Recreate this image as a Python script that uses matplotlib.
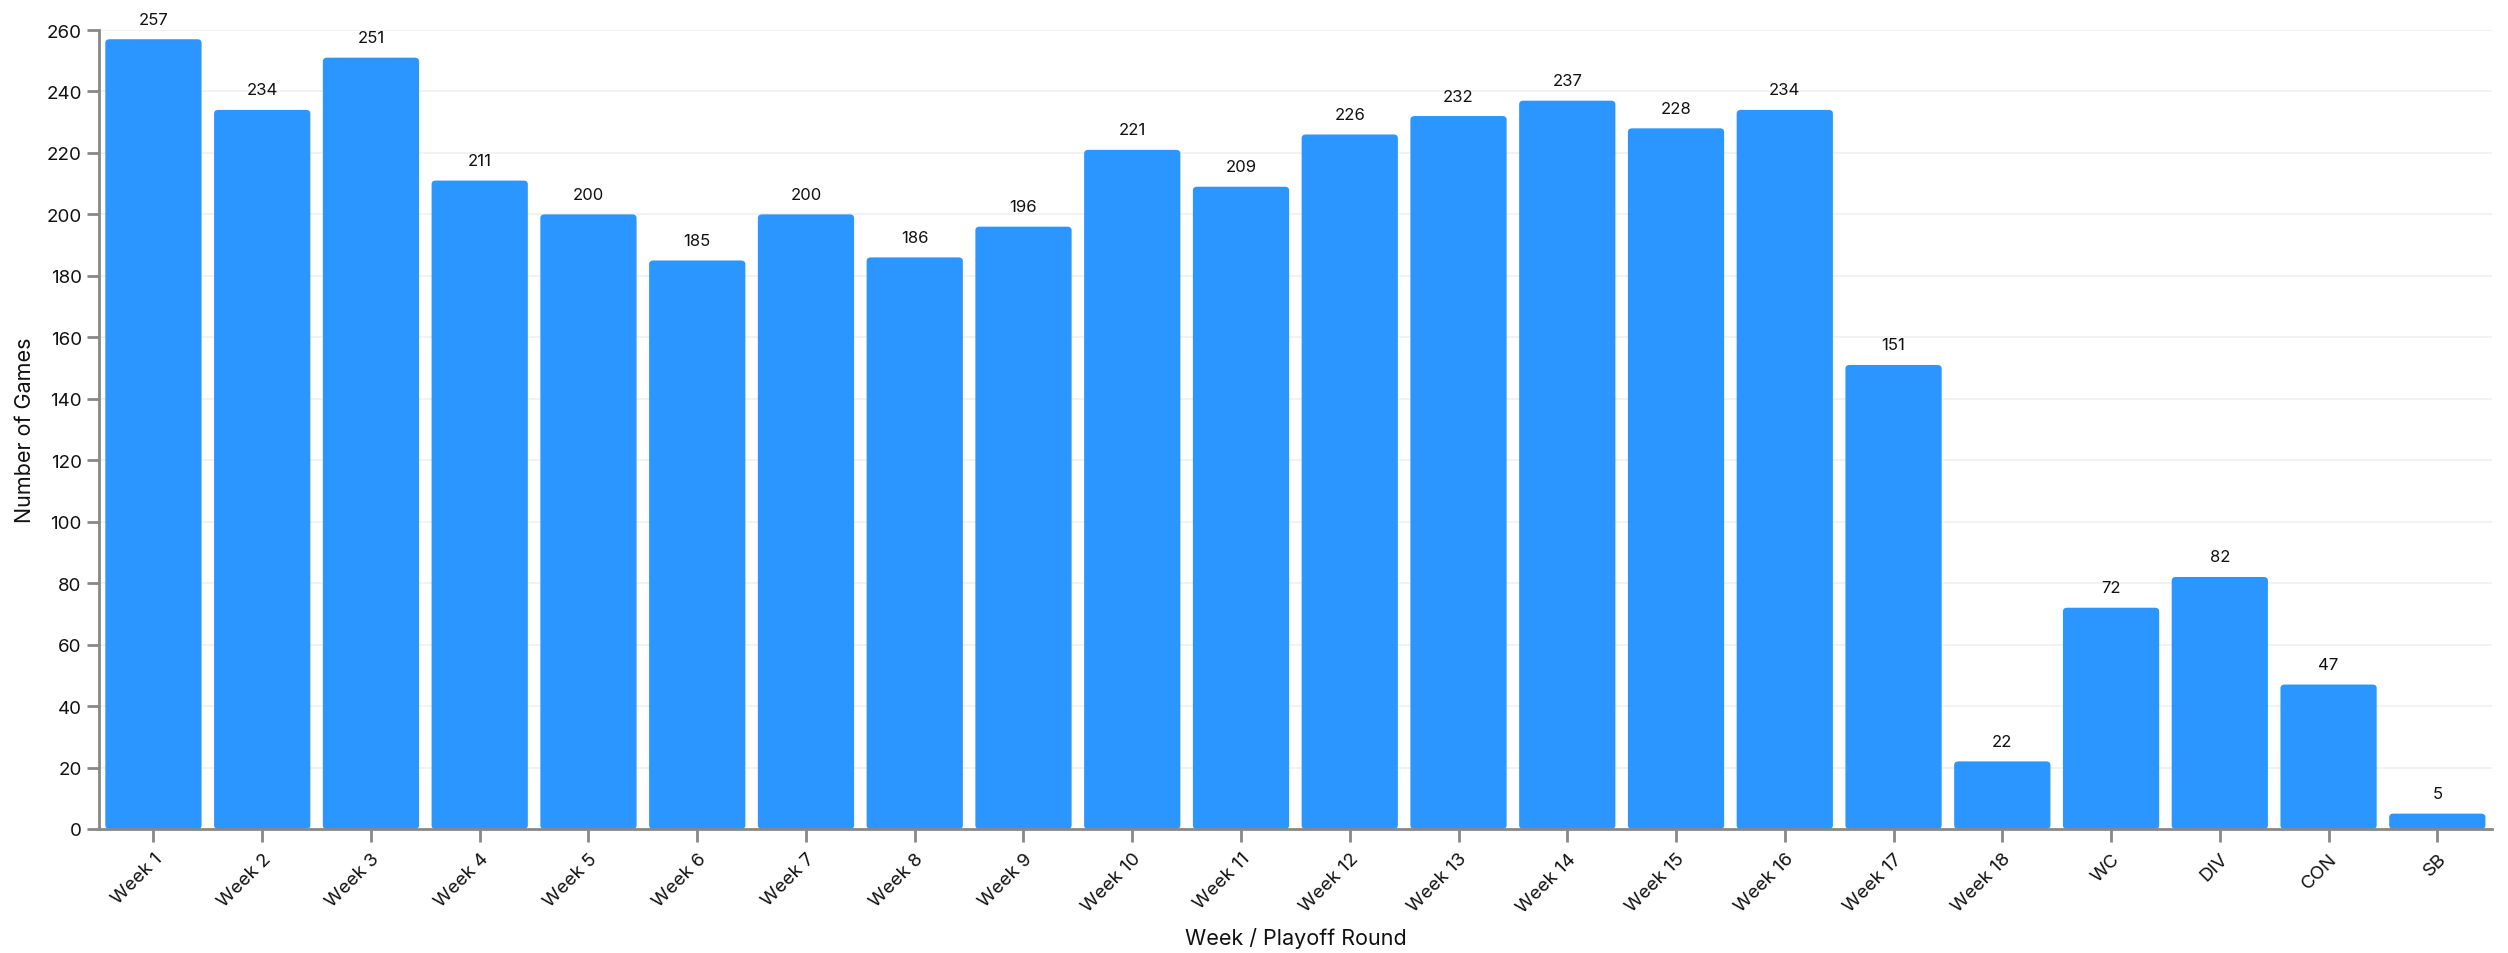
import matplotlib.pyplot as plt
from matplotlib.patches import FancyBboxPatch

# Games per week / playoff round
rounds = ['Week 1', 'Week 2', 'Week 3', 'Week 4', 'Week 5', 'Week 6', 'Week 7',
          'Week 8', 'Week 9', 'Week 10', 'Week 11', 'Week 12', 'Week 13',
          'Week 14', 'Week 15', 'Week 16', 'Week 17', 'Week 18',
          'WC', 'DIV', 'CON', 'SB']
games = [257, 234, 251, 211, 200, 185, 200, 186, 196, 221, 209, 226, 232,
         237, 228, 234, 151, 22, 72, 82, 47, 5]
yticks = list(range(0, 261, 20))

plt.rcParams['font.family'] = ['Inter', 'DejaVu Sans']

fig = plt.figure(figsize=(25.08, 9.54), dpi=100)
ax = fig.add_axes([0.0395, 0.130, 0.954, 0.8375])

bar_color = '#2b96ff'
bars = ax.bar(range(len(rounds)), games, width=0.885, color=bar_color)

# swap plain bars for slightly rounded ones
for b in bars:
    x, y = b.get_x(), b.get_y()
    w, h = b.get_width(), b.get_height()
    b.set_visible(False)
    rounded = FancyBboxPatch((x, y), w, h,
                             boxstyle='round,pad=0,rounding_size=0.04',
                             mutation_aspect=30,
                             facecolor=bar_color, edgecolor='none', zorder=2)
    ax.add_patch(rounded)

for i, v in enumerate(games):
    ax.annotate(str(v), (i, v), xytext=(0, 9), textcoords='offset points',
                ha='center', va='bottom', fontsize=12, color='#111111')

ax.set_xlim(-0.5, len(rounds) - 0.5)
ax.set_ylim(0, 260)
ax.set_yticks(yticks)
ax.set_xticks(range(len(rounds)))
ax.set_xticklabels(rounds, rotation=45, ha='right', rotation_mode='anchor')

ax.yaxis.grid(True, color='#f0f0f0', linewidth=1.2, zorder=0)
ax.set_axisbelow(True)

for s in ['top', 'right']:
    ax.spines[s].set_visible(False)
for s in ['left', 'bottom']:
    ax.spines[s].set_color('#888888')
    ax.spines[s].set_linewidth(2)

ax.tick_params(axis='both', colors='#888888', width=2, length=9, labelsize=13.5,
               labelcolor='#111111')
ax.tick_params(axis='x', pad=6)

ax.set_xlabel('Week / Playoff Round', fontsize=15.5, color='#111111', labelpad=8)
ax.set_ylabel('Number of Games', fontsize=15.5, color='#111111', labelpad=8)

fig.savefig('out.png', dpi=100)
